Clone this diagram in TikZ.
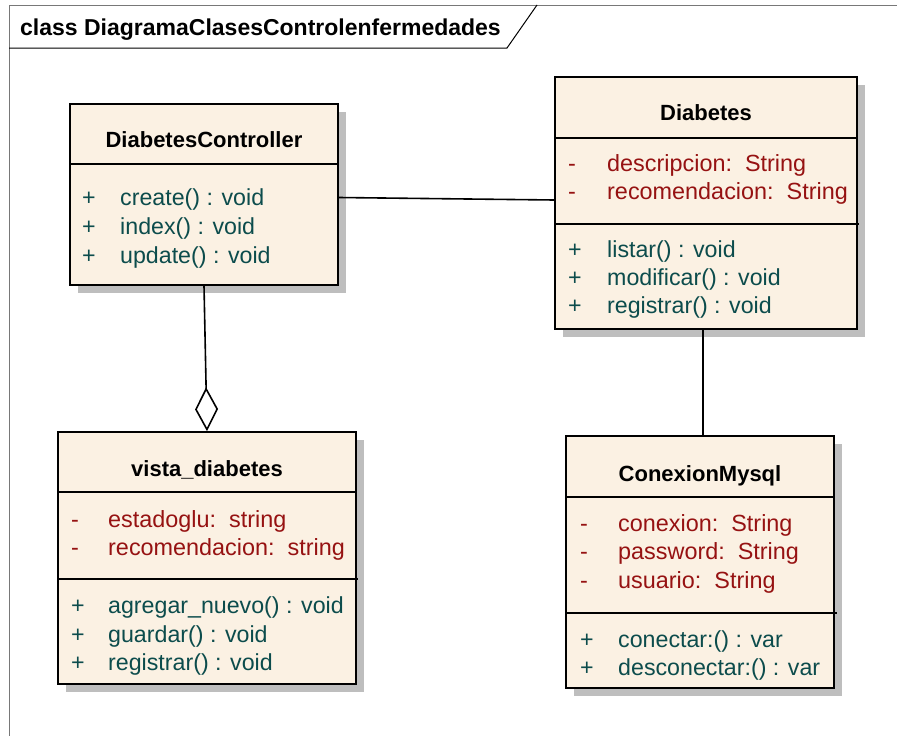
\documentclass[tikz,border=0pt]{standalone}
\usepackage{fontspec}
\setmainfont{Liberation Sans}
\usetikzlibrary{arrows.meta,shadows}

\definecolor{classfill}{RGB}{251,241,227}
\definecolor{attrcol}{RGB}{150,18,18}
\definecolor{methcol}{RGB}{12,76,76}
\definecolor{shadowcol}{RGB}{190,190,190}
\definecolor{framecol}{RGB}{120,120,120}

\tikzset{
  classbox/.style={draw=black, line width=1.6pt, fill=classfill, inner sep=0pt,
    general shadow={fill=shadowcol, draw=none, shadow xshift=8pt, shadow yshift=-8pt}},
  sepline/.style={draw=black, line width=1.6pt},
  ctitle/.style={anchor=base, inner sep=0pt, font=\fontsize{22}{26}\selectfont\bfseries},
  attr/.style={anchor=base west, inner sep=0pt, text=attrcol, font=\fontsize{23.4}{28}\selectfont},
  meth/.style={anchor=base west, inner sep=0pt, text=methcol, font=\fontsize{23.2}{28}\selectfont},
  conn/.style={draw=black, line width=1.6pt},
  aggr/.style={conn, -{Diamond[open, length=44pt, width=23pt, line width=1.6pt]}},
}

\begin{document}
\begin{tikzpicture}[x=1pt, y=-1pt]
\useasboundingbox (0,0) rectangle (897,736);

% diagram frame with its name tab
\draw[framecol, line width=1pt] (9,736) -- (9,5) -- (897,5);
\draw[black, line width=1pt] (9,48) -- (507,48) -- (537,5);
\node[anchor=base west, inner sep=0pt, font=\fontsize{23}{27}\selectfont\bfseries]
  (frametitle) at (20,35) {class DiagramaClasesControlenfermedades};

% class boxes
\node[classbox, minimum width=268pt, minimum height=181pt] (dc) at (204,194.5) {};
\node[classbox, minimum width=302pt, minimum height=252pt] (dia) at (706,203) {};
\node[classbox, minimum width=298pt, minimum height=252pt] (vista) at (207,558) {};
\node[classbox, minimum width=268pt, minimum height=252pt] (conex) at (700,562) {};

% compartment separators
\draw[sepline] (dc.west |- 0,164) -- (dc.east |- 0,164);
\draw[sepline] (dia.west |- 0,138) -- (dia.east |- 0,138);
\draw[sepline] (dia.west |- 0,224) -- ++(305,0);
\draw[sepline] (vista.west |- 0,492) -- (vista.east |- 0,492);
\draw[sepline] (vista.west |- 0,579) -- ++(301,0);
\draw[sepline] (conex.west |- 0,497) -- (conex.east |- 0,497);
\draw[sepline] (conex.west |- 0,613) -- ++(272,0);

% DiabetesController
\node[ctitle] (dcname) at (204,147) {DiabetesController};
\node[meth] (dcm1s) at (82,205) {+};
\node[meth] (dcm1) at (120,205) {create() : void};
\node[meth] (dcm2s) at (82,234) {+};
\node[meth] (dcm2) at (120,234) {index() : void};
\node[meth] (dcm3s) at (82,263) {+};
\node[meth] (dcm3) at (120,263) {update() : void};

% Diabetes
\node[ctitle] (dianame) at (706,120) {Diabetes};
\node[attr] (diaa1s) at (568,171) {-};
\node[attr] (diaa1) at (607,171) {descripcion:~~String};
\node[attr] (diaa2s) at (568,199) {-};
\node[attr] (diaa2) at (607,199) {recomendacion:~~String};
\node[meth] (diam1s) at (568,257) {+};
\node[meth] (diam1) at (607,257) {listar() : void};
\node[meth] (diam2s) at (568,285) {+};
\node[meth] (diam2) at (607,285) {modificar() : void};
\node[meth] (diam3s) at (568,313) {+};
\node[meth] (diam3) at (607,313) {registrar() : void};

% vista_diabetes
\node[ctitle] (vistaname) at (207,476) {vista\_diabetes};
\node[attr] (vistaa1s) at (71,527) {-};
\node[attr] (vistaa1) at (108,527) {estadoglu:~~string};
\node[attr] (vistaa2s) at (71,555) {-};
\node[attr] (vistaa2) at (108,555) {recomendacion:~~string};
\node[meth] (vistam1s) at (71,613) {+};
\node[meth] (vistam1) at (108,613) {agregar\_nuevo() : void};
\node[meth] (vistam2s) at (71,642) {+};
\node[meth] (vistam2) at (108,642) {guardar() : void};
\node[meth] (vistam3s) at (71,670) {+};
\node[meth] (vistam3) at (108,670) {registrar() : void};

% ConexionMysql
\node[ctitle] (conexname) at (700,481) {ConexionMysql};
\node[attr] (conexa1s) at (580,531) {-};
\node[attr] (conexa1) at (618,531) {conexion:~~String};
\node[attr] (conexa2s) at (580,559) {-};
\node[attr] (conexa2) at (618,559) {password:~~String};
\node[attr] (conexa3s) at (580,588) {-};
\node[attr] (conexa3) at (618,588) {usuario:~~String};
\node[meth] (conexm1s) at (580,647) {+};
\node[meth] (conexm1) at (618,647) {conectar:() : var};
\node[meth] (conexm2s) at (580,675) {+};
\node[meth] (conexm2) at (618,675) {desconectar:() : var};

% associations
\draw[conn] ([yshift=-3pt]dc.east) -- ([yshift=3pt]dia.west);
\draw[conn] ([xshift=-3pt]dia.south) -- ([xshift=3pt]conex.north);
\draw[aggr] (dc.south) -- (vista.north);
\end{tikzpicture}
\end{document}
